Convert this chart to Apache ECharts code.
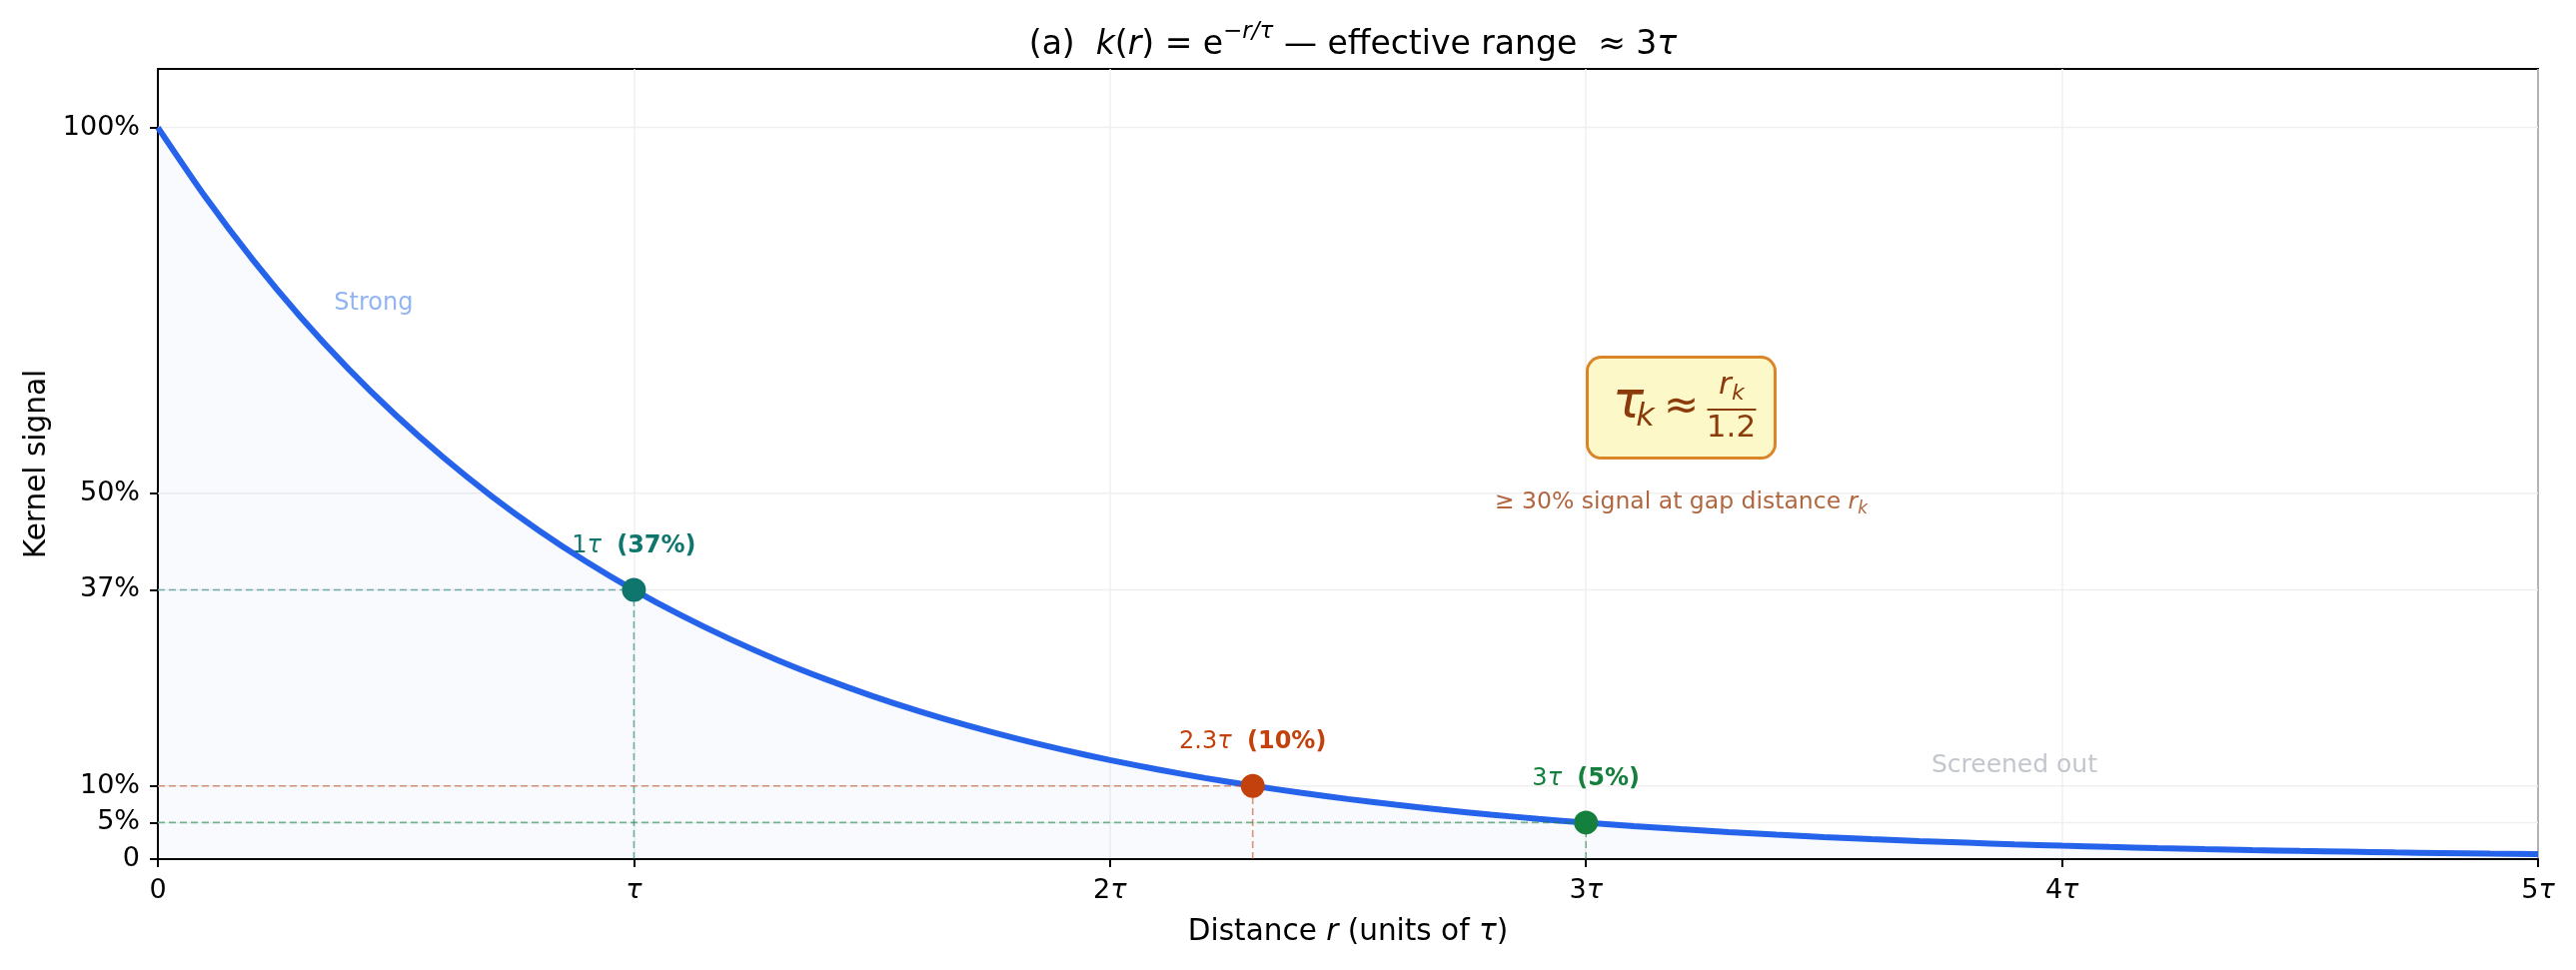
<!DOCTYPE html>
<html><head><meta charset="utf-8">
<script src="https://cdn.jsdelivr.net/npm/echarts@6/dist/echarts.min.js"></script>
<style>html,body{margin:0;padding:0;background:#fff}#c{width:2578px;height:971px}</style>
</head><body><div id="c"></div>
<script>
// ---- data ----
const rValues = [0,0.1,0.2,0.3,0.4,0.5,0.6,0.7,0.8,0.9,1.0,1.1,1.2,1.3,1.4,1.5,1.6,1.7,1.8,1.9,2.0,2.1,2.2,2.3,2.4,2.5,2.6,2.7,2.8,2.9,3.0,3.1,3.2,3.3,3.4,3.5,3.6,3.7,3.8,3.9,4.0,4.1,4.2,4.3,4.4,4.5,4.6,4.7,4.8,4.9,5.0];
const kValues = [1.0000,0.9048,0.8187,0.7408,0.6703,0.6065,0.5488,0.4966,0.4493,0.4066,0.3679,0.3329,0.3012,0.2725,0.2466,0.2231,0.2019,0.1827,0.1653,0.1496,0.1353,0.1225,0.1108,0.1003,0.0907,0.0821,0.0743,0.0672,0.0608,0.0550,0.0498,0.0450,0.0408,0.0369,0.0334,0.0302,0.0273,0.0247,0.0224,0.0202,0.0183,0.0166,0.0150,0.0136,0.0123,0.0111,0.0101,0.0091,0.0082,0.0074,0.0067];
const markerR = [1, 2.3, 3];
const markerK = [0.368, 0.100, 0.050];
const markerNames = ['1τ', '2.3τ', '3τ'];
const markerPct = ['(37%)', '(10%)', '(5%)'];
const markerColors = ['#0f766e', '#c2410c', '#15803d'];
const yTickValues = [0, 0.05, 0.10, 0.368, 0.50, 1.00];
const yTickLabels = ['0', '5%', '10%', '37%', '50%', '100%'];
const xTickValues = [0, 1, 2, 3, 4, 5];
const xTickLabels = ['0', 'τ', '2τ', '3τ', '4τ', '5τ'];

const FF = '"DejaVu Sans", sans-serif';
const chart = echarts.init(document.getElementById('c'), null, {renderer: 'canvas'});

const italicTau = s => s.replace('τ', '{i|τ}');
const GRID = {left: 158, right: 38, top: 69, bottom: 111};

// horizontal grid lines (custom y ticks) as plain line series
const gridSeries = yTickValues.filter(v => v > 0).map(v => ({
  type: 'line', z: 1, silent: true, showSymbol: false, symbol: 'none',
  data: [[0, v], [5, v]],
  lineStyle: {color: '#efefef', width: 1.5}
}));

// dashed guides from the axes to each marked point
const guideSeries = [];
markerR.forEach((r, i) => {
  const k = markerK[i];
  const ls = {color: markerColors[i], type: [7, 4], width: 1.6, opacity: 0.55};
  guideSeries.push({type: 'line', z: 4, silent: true, showSymbol: false, symbol: 'none', data: [[0, k], [r, k]], lineStyle: ls});
  guideSeries.push({type: 'line', z: 4, silent: true, showSymbol: false, symbol: 'none', data: [[r, 0], [r, k]], lineStyle: ls});
});

const markerData = markerR.map((r, i) => ({
  value: [r, markerK[i]],
  itemStyle: {color: markerColors[i], opacity: 1},
  label: {
    formatter: '{n|' + markerNames[i].replace('τ', '}{ni|τ}') + '{n|  }{b|' + markerPct[i] + '}',
    rich: {
      n: {color: markerColors[i], fontSize: 24, fontFamily: FF},
      ni: {color: markerColors[i], fontSize: 24, fontFamily: FF, fontStyle: 'italic'},
      b: {color: markerColors[i], fontSize: 24, fontFamily: FF, fontWeight: 'bold'}
    }
  }
}));

chart.setOption({
  backgroundColor: '#fff',
  animation: false,
  title: {
    text: '(a)  {i|k}({i|r}) = e{sup|−r/τ} — effective range  ≈ 3{i|τ}',
    left: (GRID.left + (2578 - GRID.right)) / 2, textAlign: 'center', top: 16,
    textStyle: {
      fontSize: 33, fontFamily: FF, fontWeight: 'normal', color: '#000',
      rich: {
        i: {fontSize: 33, fontFamily: FF, fontStyle: 'italic', color: '#000', lineHeight: 48},
        sup: {fontSize: 23, fontFamily: FF, fontStyle: 'italic', color: '#000', verticalAlign: 'top', lineHeight: 26}
      },
      lineHeight: 48
    }
  },
  grid: Object.assign({show: true, borderColor: '#000', borderWidth: 2, outerBoundsMode: 'none', containLabel: false}, GRID),
  xAxis: {
    type: 'value', min: 0, max: 5, interval: 1,
    axisLine: {show: true, onZero: false, lineStyle: {color: '#000', width: 2}},
    axisTick: {show: true, length: 8, lineStyle: {color: '#000', width: 2}},
    axisLabel: {
      fontSize: 27, fontFamily: FF, color: '#000', margin: 18,
      formatter: v => { const i = xTickValues.indexOf(v); return i < 0 ? '' : italicTau(xTickLabels[i]); },
      rich: {i: {fontSize: 27, fontFamily: FF, fontStyle: 'italic', color: '#000'}}
    },
    splitLine: {show: true, lineStyle: {color: '#efefef', width: 1.5}},
    name: 'Distance {i|r} (units of {i|τ})', nameLocation: 'middle', nameGap: 58,
    nameTextStyle: {fontSize: 29.5, fontFamily: FF, color: '#000',
      rich: {i: {fontSize: 29.5, fontFamily: FF, fontStyle: 'italic', color: '#000'}}}
  },
  yAxis: {
    type: 'value', min: 0, max: 1.08,
    axisLine: {show: true, lineStyle: {color: '#000', width: 2}},
    axisTick: {show: true, length: 8, customValues: yTickValues, lineStyle: {color: '#000', width: 2}},
    axisLabel: {
      customValues: yTickValues, fontSize: 27, fontFamily: FF, color: '#000', margin: 18,
      formatter: v => { const i = yTickValues.findIndex(t => Math.abs(t - v) < 1e-6); return i < 0 ? '' : yTickLabels[i]; }
    },
    splitLine: {show: false},
    name: 'Kernel signal', nameLocation: 'middle', nameGap: 106,
    nameTextStyle: {fontSize: 29.5, fontFamily: FF, color: '#000'}
  },
  series: gridSeries.concat([
    {
      type: 'line', z: 3, smooth: 0.25, showSymbol: false, symbol: 'none', silent: true,
      data: rValues.map((r, i) => [r, kValues[i]]),
      lineStyle: {color: '#2563eb', width: 6},
      areaStyle: {color: 'rgba(37,99,235,0.045)', origin: 'start'}
    }
  ], guideSeries, [
    {
      type: 'scatter', z: 6, symbolSize: 24, silent: true,
      label: {show: true, position: 'top', distance: 20},
      data: markerData
    }
  ])
});

// ---- annotations (anchored in data space, drawn as text) ----
const P = (x, y) => chart.convertToPixel({gridIndex: 0}, [x, y]);
const strongP = P(0.37, 0.76);
const screenedP = P(3.9, 0.128);
const noteP = P(3.2, 0.488);
const boxP = P(3.2, 0.617);
const cx = boxP[0], cy = boxP[1];
const FC = '#8b3a0b';
const NC = '#b0663e';

chart.setOption({
  graphic: [
    {type: 'text', x: strongP[0], y: strongP[1], z: 10,
      style: {text: 'Strong', fill: '#93b4f3', font: '24px ' + FF, align: 'left', verticalAlign: 'middle'}},
    {type: 'text', x: screenedP[0], y: screenedP[1], z: 10,
      style: {text: 'Screened out', fill: '#c2c6cd', font: '25px ' + FF, align: 'center', verticalAlign: 'middle'}},
    {type: 'text', x: noteP[0], y: noteP[1], z: 10,
      style: {text: '≥ 30% signal at gap distance {i|r}{s|k}', fill: NC, font: '23.5px ' + FF, align: 'center', verticalAlign: 'middle',
        rich: {i: {font: 'italic 23.5px ' + FF, fill: NC, lineHeight: 30}, s: {font: 'italic 17px ' + FF, fill: NC, verticalAlign: 'bottom', lineHeight: 17}}}},
    {type: 'group', x: cx, y: cy, z: 10, children: [
      {type: 'rect', shape: {x: -94, y: -50.5, width: 188, height: 101, r: 14},
        style: {fill: '#fdf8c8', stroke: '#d98528', lineWidth: 3}},
      {type: 'text', x: -53, y: -4, style: {text: 'τ', font: 'italic 52px ' + FF, fill: FC, align: 'center', verticalAlign: 'middle'}},
      {type: 'text', x: -36, y: 10, style: {text: 'k', font: 'italic 32px ' + FF, fill: FC, align: 'center', verticalAlign: 'middle'}},
      {type: 'text', x: 0, y: 0, style: {text: '≈', font: '42px ' + FF, fill: FC, align: 'center', verticalAlign: 'middle'}},
      {type: 'text', x: 44, y: -22, style: {text: 'r', font: 'italic 31px ' + FF, fill: FC, align: 'center', verticalAlign: 'middle'}},
      {type: 'text', x: 57, y: -14, style: {text: 'k', font: 'italic 22px ' + FF, fill: FC, align: 'center', verticalAlign: 'middle'}},
      {type: 'line', shape: {x1: 26, y1: 2, x2: 75, y2: 2}, style: {stroke: FC, lineWidth: 2}},
      {type: 'text', x: 50, y: 21, style: {text: '1.2', font: '31px ' + FF, fill: FC, align: 'center', verticalAlign: 'middle'}}
    ]}
  ]
});
</script>
</body></html>
